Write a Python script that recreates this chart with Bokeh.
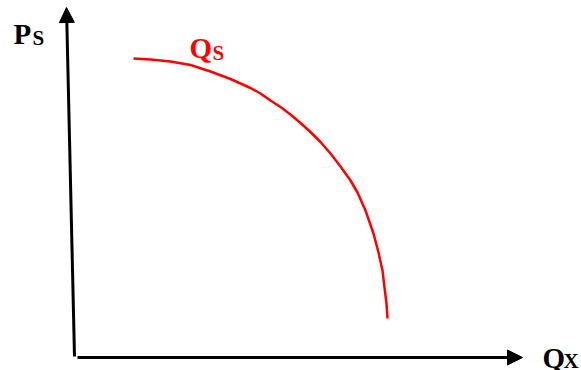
from bokeh.plotting import figure
from bokeh.models import Range1d, Arrow, NormalHead, ColumnDataSource
from bokeh.core.properties import value
from bokeh.embed import file_html
from bokeh.resources import INLINE

# Supply curve Q_S (quantity of good X vs price of S)
curve_x = [58, 75, 95, 115, 135, 155, 175, 185, 195, 205, 215, 225, 235, 245,
           255, 265, 275, 282, 290, 298, 303, 307, 309, 311, 312]
curve_y = [299, 298, 296, 292.5, 286, 278.5, 269.5, 264, 257, 250.5, 243, 234.5, 225.5,
           215.5, 204, 191, 177, 165, 147, 124, 105, 87, 70, 54, 39]

# Axis labels (main letter, subscript)
labels_main = ["P", "Q", "Q"]
labels_sub = ["S", "S", "X"]

FONT = "Liberation Serif"

p = figure(width=581, height=370, output_backend="svg", toolbar_location=None,
           x_range=Range1d(-75, 506), y_range=Range1d(-13, 357),
           min_border=0, outline_line_color=None)
p.axis.visible = False
p.grid.visible = False
p.background_fill_color = "white"
p.border_fill_color = "white"

# axes as arrows
p.add_layout(Arrow(x_start=-1, y_start=1, x_end=-9, y_end=350,
                   line_color="black", line_width=3,
                   end=NormalHead(size=15, fill_color="black", line_color="black", line_width=1)))
p.add_layout(Arrow(x_start=2, y_start=0, x_end=447, y_end=0,
                   line_color="black", line_width=3,
                   end=NormalHead(size=15, fill_color="black", line_color="black", line_width=1)))

# curve
p.line(curve_x, curve_y, line_color="#ff0000", line_width=2.5, line_join="round")

# labels
main_src = ColumnDataSource(dict(x=[-62, 114, 467], y=[324, 310, 0], t=labels_main,
                                 c=["black", "#ff0000", "black"]))
sub_src = ColumnDataSource(dict(x=[-43, 137, 488], y=[320, 305, -3], t=labels_sub,
                                c=["black", "#ff0000", "black"]))
p.text(x="x", y="y", text="t", source=main_src, text_color="c",
       text_font=value(FONT), text_font_style="bold", text_font_size="29px",
       text_baseline="alphabetic", text_align="left")
p.text(x="x", y="y", text="t", source=sub_src, text_color="c",
       text_font=value(FONT), text_font_style="bold", text_font_size="21px",
       text_baseline="alphabetic", text_align="left")

open("out.html", "w").write(file_html(p, INLINE))
